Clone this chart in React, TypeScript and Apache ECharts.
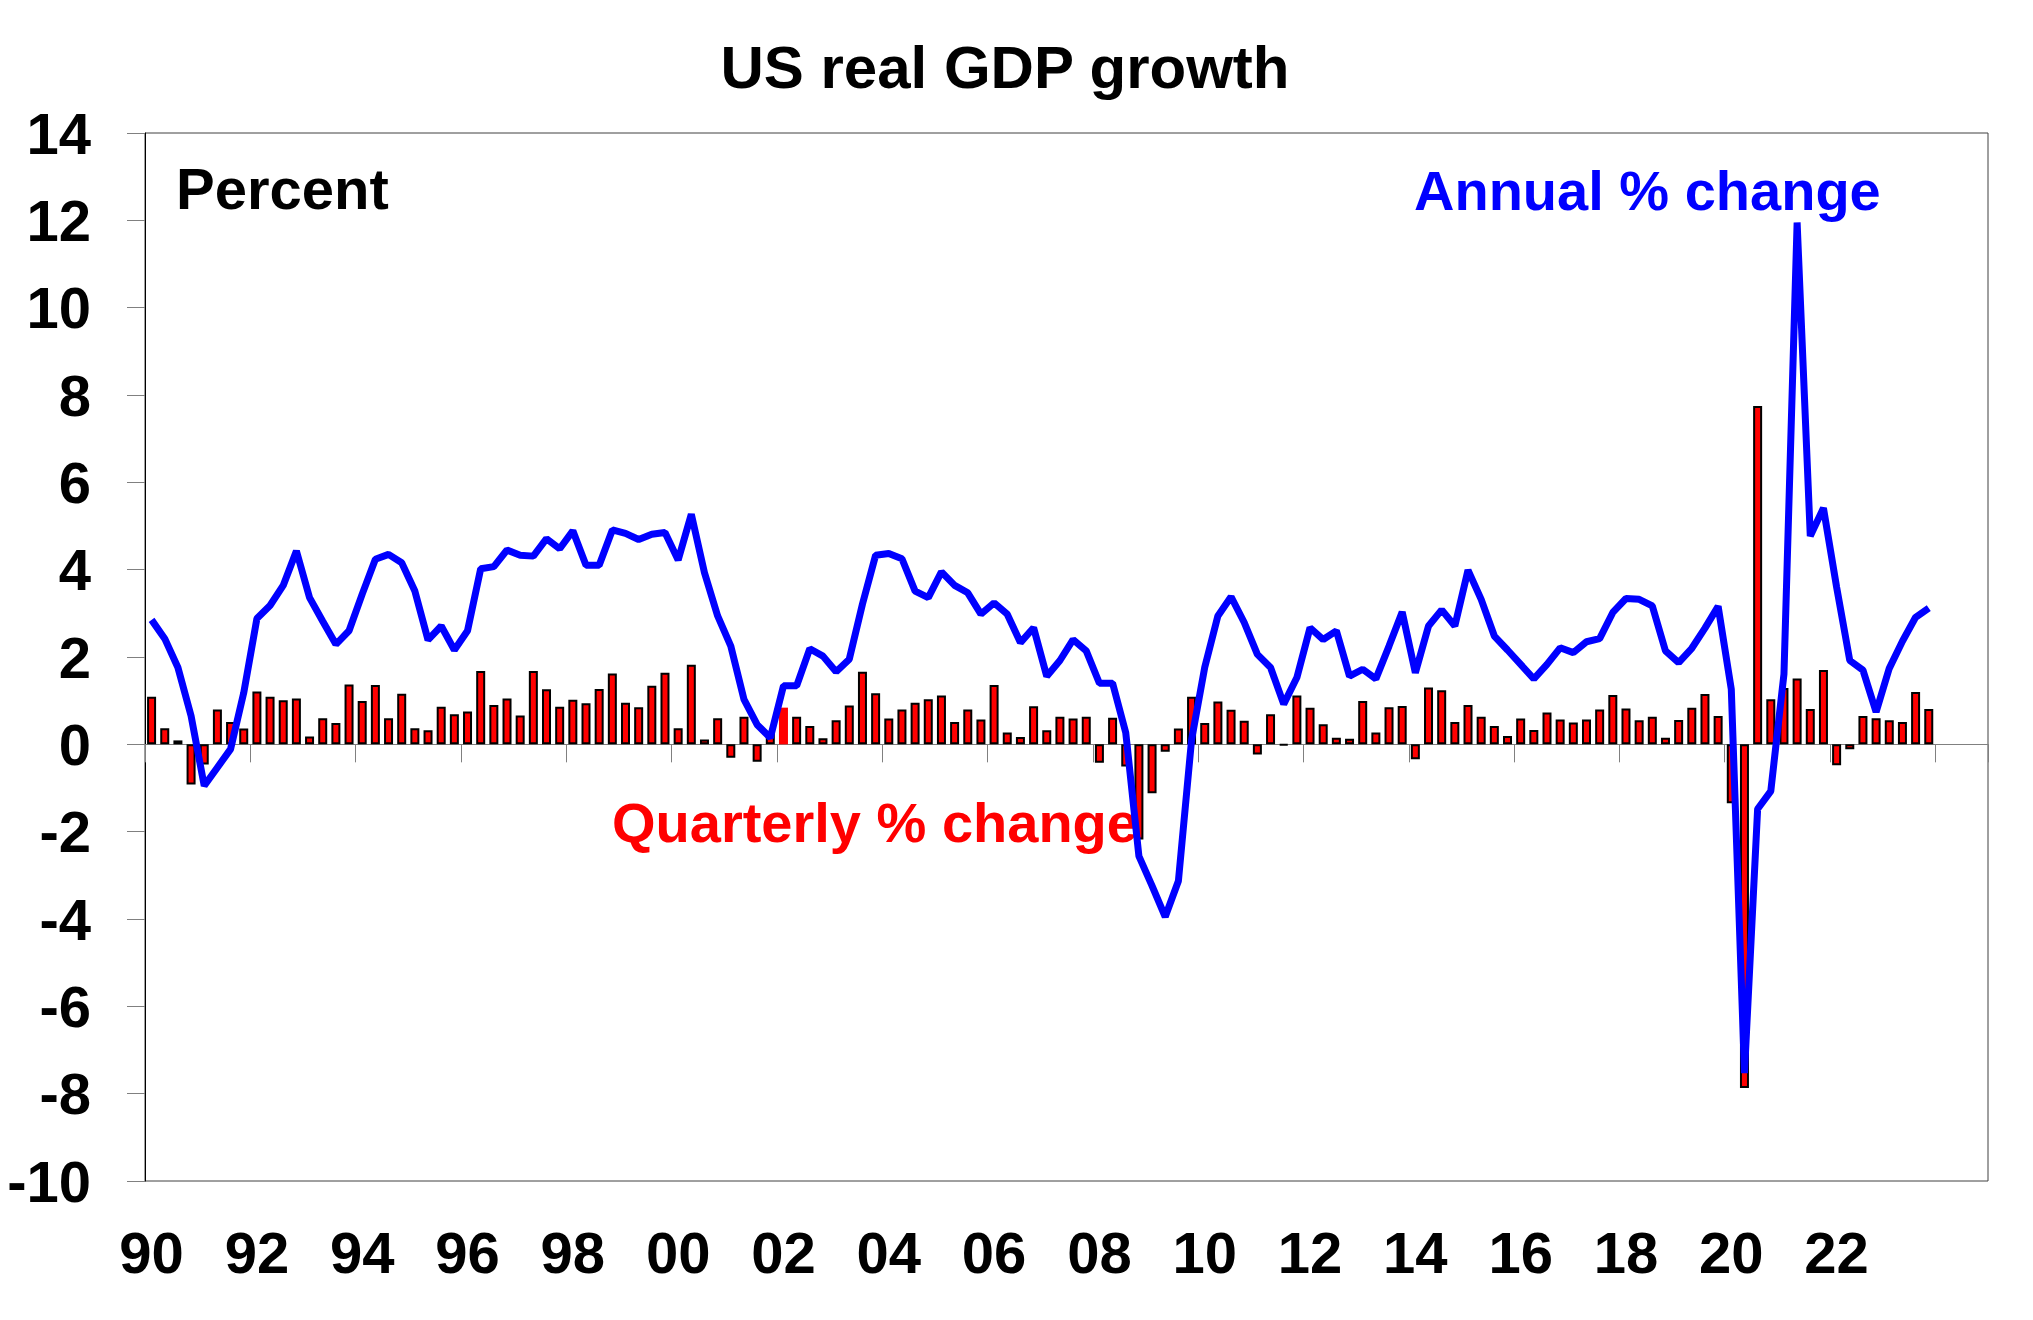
import React, { useEffect, useRef } from "react";
import * as echarts from "echarts";

// Quarterly % change, 1990 Q1 .. 2023 Q4
const quarterly = [
  1.09, 0.37, 0.09, -0.92, -0.46, 0.8, 0.51, 0.36,
  1.21, 1.09, 1.01, 1.05, 0.18, 0.6, 0.49, 1.37,
  0.99, 1.36, 0.6, 1.16, 0.37, 0.32, 0.86, 0.69,
  0.75, 1.68, 0.9, 1.05, 0.66, 1.68, 1.26, 0.86,
  1.02, 0.94, 1.27, 1.62, 0.95, 0.85, 1.34, 1.64,
  0.37, 1.82, 0.11, 0.6, -0.31, 0.63, -0.4, 0.27,
  0.84, 0.63, 0.42, 0.14, 0.55, 0.89, 1.66, 1.17,
  0.59, 0.8, 0.95, 1.03, 1.12, 0.51, 0.8, 0.57,
  1.36, 0.27, 0.17, 0.87, 0.32, 0.63, 0.59, 0.63,
  -0.42, 0.61, -0.51, -2.18, -1.12, -0.17, 0.36, 1.09,
  0.49, 0.98, 0.79, 0.54, -0.23, 0.69, -0.02, 1.12,
  0.84, 0.46, 0.15, 0.13, 0.99, 0.27, 0.85, 0.88,
  -0.34, 1.3, 1.24, 0.51, 0.9, 0.63, 0.42, 0.19,
  0.59, 0.33, 0.73, 0.57, 0.5, 0.57, 0.8, 1.13,
  0.82, 0.55, 0.63, 0.15, 0.56, 0.84, 1.15, 0.65,
  -1.35, -7.87, 7.75, 1.03, 1.29, 1.51, 0.81, 1.7,
  -0.48, -0.11, 0.65, 0.6, 0.55, 0.51, 1.2, 0.81,
];

// Annual % change, 1990 Q1 .. 2023 Q4
const annual = [
  2.85, 2.42, 1.76, 0.65, -0.95, -0.53, -0.11, 1.18,
  2.88, 3.18, 3.64, 4.43, 3.36, 2.82, 2.29, 2.6,
  3.44, 4.24, 4.35, 4.16, 3.51, 2.39, 2.71, 2.16,
  2.6, 4.02, 4.07, 4.45, 4.33, 4.31, 4.71, 4.48,
  4.89, 4.1, 4.1, 4.91, 4.83, 4.69, 4.81, 4.85,
  4.22, 5.27, 3.93, 2.94, 2.25, 1.03, 0.45, 0.15,
  1.34, 1.34, 2.19, 2.02, 1.66, 1.95, 3.21, 4.33,
  4.37, 4.25, 3.51, 3.36, 3.95, 3.64, 3.47, 2.98,
  3.24, 2.98, 2.33, 2.67, 1.56, 1.92, 2.4, 2.14,
  1.4, 1.4, 0.27, -2.56, -3.24, -3.95, -3.13, 0.1,
  1.76, 2.94, 3.38, 2.79, 2.06, 1.76, 0.92, 1.53,
  2.67, 2.4, 2.6, 1.56, 1.72, 1.5, 2.25, 3.03,
  1.64, 2.71, 3.08, 2.71, 3.99, 3.32, 2.48, 2.16,
  1.83, 1.5, 1.83, 2.21, 2.1, 2.35, 2.42, 3.02,
  3.34, 3.32, 3.17, 2.14, 1.87, 2.2, 2.66, 3.16,
  1.26, -7.53, -1.48, -1.07, 1.61, 11.95, 4.77, 5.41,
  3.6, 1.92, 1.7, 0.74, 1.74, 2.36, 2.91, 3.12,
];

const tickLabels = ["90", "92", "94", "96", "98", "00", "02", "04", "06", "08", "10", "12", "14", "16", "18", "20", "22"];
const startYear = 1990;
const totalQuarters = 140; // axis runs to 2024 Q4
const categories = Array.from({ length: totalQuarters }, (_, i) => `${startYear + Math.floor(i / 4)} Q${(i % 4) + 1}`);
const unborderedBar = 48; // 2002 Q1 drawn without outline

const FONT = "'Liberation Sans', Arial, Helvetica, sans-serif";

export default function App() {
  const ref = useRef<HTMLDivElement>(null);
  useEffect(() => {
    if (!ref.current) return;
    const chart = echarts.init(ref.current, null, { renderer: "svg" });
    const pad = (arr: number[]) => [...arr, ...Array(totalQuarters - arr.length).fill(null)];
    const barData = pad(quarterly).map((v, i) =>
      i === unborderedBar && v !== null ? { value: v, itemStyle: { borderWidth: 0 } } : v
    );
    chart.setOption({
      animation: false,
      backgroundColor: "#ffffff",
      textStyle: { fontFamily: FONT },
      grid: {
        left: 145,
        right: 45,
        top: 133,
        bottom: 139,
        show: true,
        borderColor: "#404040",
        borderWidth: 1,
        containLabel: false,
        outerBoundsMode: "none",
      },
      xAxis: [
        {
          type: "category",
          data: categories,
          position: "bottom",
          boundaryGap: true,
          axisLine: { show: false, onZero: false },
          axisTick: { show: false },
          splitLine: { show: false },
          axisLabel: {
            show: true,
            interval: (i: number) => i % 8 === 0 && i / 8 < tickLabels.length,
            formatter: (_v: string, i: number) => (i % 8 === 0 ? tickLabels[i / 8] ?? "" : ""),
            fontFamily: FONT,
            fontWeight: "bold",
            fontSize: 58,
            color: "#000",
            margin: 42,
          },
        },
        {
          type: "category",
          data: categories,
          position: "top",
          boundaryGap: true,
          axisLine: { show: true, onZero: true, lineStyle: { color: "#808080", width: 1 } },
          axisTick: {
            show: true,
            inside: true,
            length: 18,
            interval: (i: number) => i % 8 === 0,
            lineStyle: { color: "#808080", width: 1 },
          },
          axisLabel: { show: false },
          splitLine: { show: false },
        },
      ],
      yAxis: {
        type: "value",
        min: -10,
        max: 14,
        interval: 2,
        axisLine: { show: true, lineStyle: { color: "#000", width: 1 } },
        axisTick: { show: true, length: 18, lineStyle: { color: "#808080", width: 1 } },
        splitLine: { show: false },
        axisLabel: {
          fontFamily: FONT,
          fontWeight: "bold",
          fontSize: 58,
          color: "#000",
          margin: 54,
        },
      },
      series: [
        {
          name: "Quarterly % change",
          type: "bar",
          xAxisIndex: 0,
          data: barData,
          barWidth: 9,
          itemStyle: { color: "#FF0000", borderColor: "#000000", borderWidth: 2 },
          z: 2,
        },
        {
          name: "Annual % change",
          type: "line",
          xAxisIndex: 0,
          data: pad(annual),
          symbol: "none",
          connectNulls: false,
          lineStyle: { color: "#0000FF", width: 7 },
          z: 3,
        },
      ],
      graphic: [
        {
          type: "text",
          x: 1005,
          y: 67,
          style: { text: "US real GDP growth", fill: "#000", fontFamily: FONT, fontWeight: "bold", fontSize: 60, align: "center", verticalAlign: "middle" },
        },
        {
          type: "text",
          x: 176,
          y: 188,
          style: { text: "Percent", fill: "#000", fontFamily: FONT, fontWeight: "bold", fontSize: 58, align: "left", verticalAlign: "middle" },
        },
        {
          type: "text",
          x: 1414,
          y: 190,
          style: { text: "Annual % change", fill: "#0000FF", fontFamily: FONT, fontWeight: "bold", fontSize: 56, align: "left", verticalAlign: "middle" },
        },
        {
          type: "text",
          x: 612,
          y: 822,
          style: { text: "Quarterly % change", fill: "#FF0000", fontFamily: FONT, fontWeight: "bold", fontSize: 56, align: "left", verticalAlign: "middle" },
        },
      ],
    });
    return () => chart.dispose();
  }, []);
  return (
    <div
      ref={ref}
      style={{ position: "fixed", left: 0, top: 0, width: 2033, height: 1320, background: "#fff" }}
    />
  );
}
